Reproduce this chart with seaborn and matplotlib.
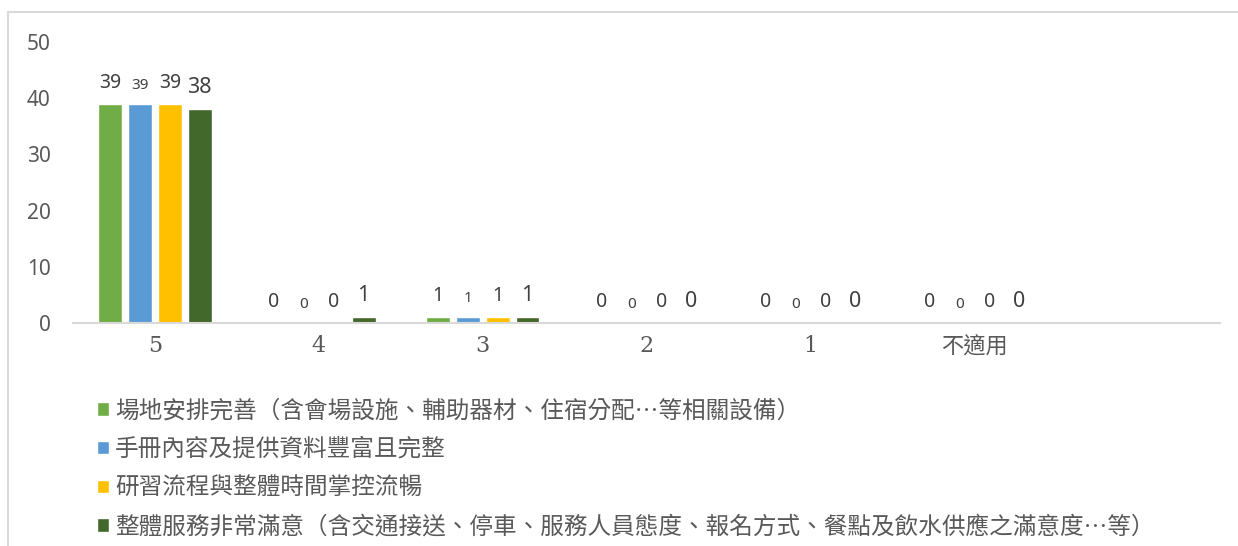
import pandas as pd
import seaborn as sns
import matplotlib.pyplot as plt
from matplotlib.lines import Line2D

# data
categories = ['5', '4', '3', '2', '1', '不適用']
series_names = ['場地安排完善（含會場設施、輔助器材、住宿分配…等相關設備）',
                '手冊內容及提供資料豐富且完整',
                '研習流程與整體時間掌控流暢',
                '整體服務非常滿意（含交通接送、停車、服務人員態度、報名方式、餐點及飲水供應之滿意度…等）']
venue = [39, 0, 1, 0, 0, 0]
handbook = [39, 0, 1, 0, 0, 0]
schedule = [39, 0, 1, 0, 0, 0]
service = [38, 1, 1, 0, 0, 0]
colors = ['#70AD47', '#5B9BD5', '#FFC000', '#43682B']

rows = []
for name, vals in zip(series_names, [venue, handbook, schedule, service]):
    for c, v in zip(categories, vals):
        rows.append({'cat': c, 'series': name, 'count': v})
df = pd.DataFrame(rows)

sns.set_theme(style='white')
plt.rcParams['font.family'] = ['Noto Sans', 'Noto Sans CJK TC', 'DejaVu Sans']

fig = plt.figure(figsize=(12.38, 5.46), dpi=100)
ax = fig.add_axes([73/1238, 1 - 323/546, (1220 - 73)/1238, (323 - 42)/546])

sns.barplot(data=df, x='cat', y='count', hue='series', order=categories,
            hue_order=series_names, palette=colors, width=0.73, gap=0.2,
            saturation=1, ax=ax)

ax.set_xlim(-0.5, 6.5)
ax.set_ylim(0, 50)
ax.set_yticks(range(0, 51, 10))
ax.set_xlabel('')
ax.set_ylabel('')
for s in ['top', 'right', 'left']:
    ax.spines[s].set_visible(False)
ax.spines['bottom'].set_color('#D9D9D9')
ax.spines['bottom'].set_linewidth(1.5)
ax.tick_params(axis='y', length=0, pad=16, labelsize=15, labelcolor='#595959')
ax.tick_params(axis='x', length=0, pad=9, labelcolor='#595959')
for lab in ax.get_xticklabels():
    lab.set_fontfamily(['DejaVu Serif', 'Noto Sans CJK TC'])
    lab.set_fontsize(16)

label_sizes = [14, 11, 14, 15.5]
for cont, fs in zip(ax.containers, label_sizes):
    ax.bar_label(cont, fmt='%d', padding=8, fontsize=fs, color='#404040')

sns.move_legend(ax, loc='upper left', bbox_to_anchor=(88/1238, 1 - 390/546),
                bbox_transform=fig.transFigure, frameon=False, title=None,
                ncol=1, fontsize=17, handlelength=0.5, handleheight=0.5,
                handletextpad=0.25, labelspacing=0.66, borderaxespad=0)
for t in ax.get_legend().get_texts():
    t.set_color('#595959')
    t.set_fontfamily(['Noto Sans CJK TC', 'DejaVu Sans'])

# chart frame
fig.add_artist(Line2D([8/1238, 8/1238], [0, 1 - 12/546], color='#D9D9D9', lw=1.5))
fig.add_artist(Line2D([8/1238, 1], [1 - 12/546, 1 - 12/546], color='#D9D9D9', lw=1.5))

fig.savefig('out.png', dpi=100)
